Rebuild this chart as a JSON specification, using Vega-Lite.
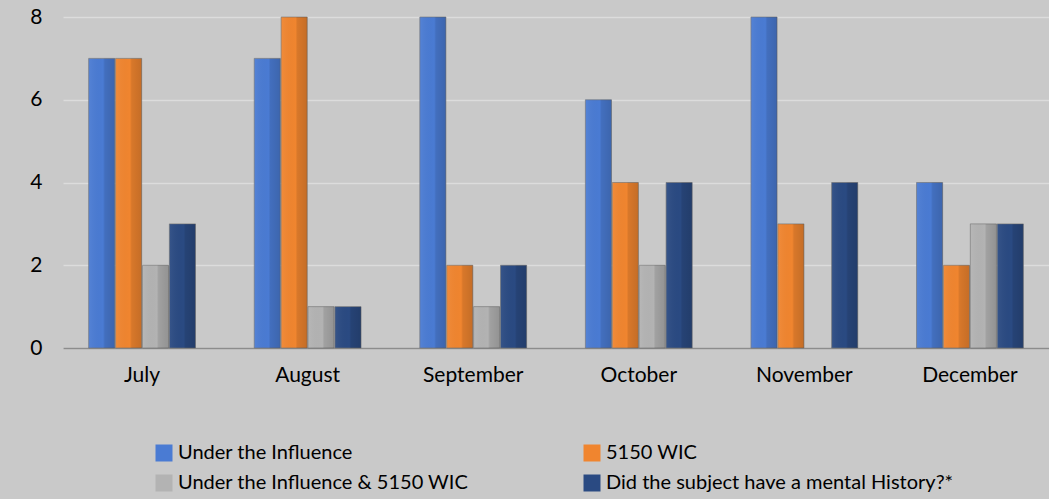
{
  "$schema": "https://vega.github.io/schema/vega-lite/v6.json",
  "autosize": {"type": "none"},
  "padding": {"left": 63, "top": 17, "right": 0, "bottom": 151},
  "width": 986,
  "height": 331,
  "background": "#c9c9c9",
  "data": {
    "values": [
      {"month": "July", "series": "Under the Influence", "count": 7},
      {"month": "July", "series": "5150 WIC", "count": 7},
      {"month": "July", "series": "Under the Influence & 5150 WIC", "count": 2},
      {"month": "July", "series": "Did the subject have a mental History?*", "count": 3},
      {"month": "August", "series": "Under the Influence", "count": 7},
      {"month": "August", "series": "5150 WIC", "count": 8},
      {"month": "August", "series": "Under the Influence & 5150 WIC", "count": 1},
      {"month": "August", "series": "Did the subject have a mental History?*", "count": 1},
      {"month": "September", "series": "Under the Influence", "count": 8},
      {"month": "September", "series": "5150 WIC", "count": 2},
      {"month": "September", "series": "Under the Influence & 5150 WIC", "count": 1},
      {"month": "September", "series": "Did the subject have a mental History?*", "count": 2},
      {"month": "October", "series": "Under the Influence", "count": 6},
      {"month": "October", "series": "5150 WIC", "count": 4},
      {"month": "October", "series": "Under the Influence & 5150 WIC", "count": 2},
      {"month": "October", "series": "Did the subject have a mental History?*", "count": 4},
      {"month": "November", "series": "Under the Influence", "count": 8},
      {"month": "November", "series": "5150 WIC", "count": 3},
      {"month": "November", "series": "Under the Influence & 5150 WIC", "count": 0},
      {"month": "November", "series": "Did the subject have a mental History?*", "count": 4},
      {"month": "December", "series": "Under the Influence", "count": 4},
      {"month": "December", "series": "5150 WIC", "count": 2},
      {"month": "December", "series": "Under the Influence & 5150 WIC", "count": 3},
      {"month": "December", "series": "Did the subject have a mental History?*", "count": 3}
    ]
  },
  "encoding": {
    "x": {
      "field": "month",
      "type": "nominal",
      "sort": ["July", "August", "September", "October", "November", "December"],
      "scale": {"paddingInner": 0.355, "paddingOuter": 0.155},
      "axis": {
        "title": null,
        "labelAngle": 0,
        "ticks": false,
        "domainColor": "#8c8c8c",
        "domainWidth": 1.5,
        "labelFont": "Lato",
        "labelFontSize": 21,
        "labelColor": "#000000",
        "labelPadding": 16
      }
    },
    "xOffset": {
      "field": "series",
      "type": "nominal",
      "sort": ["Under the Influence", "5150 WIC", "Under the Influence & 5150 WIC", "Did the subject have a mental History?*"],
      "scale": {"paddingInner": 0.03}
    },
    "y": {
      "field": "count",
      "type": "quantitative",
      "scale": {"domain": [0, 8]},
      "axis": {
        "title": null,
        "values": [0, 2, 4, 6, 8],
        "domain": false,
        "ticks": false,
        "gridColor": "#dcdcdc",
        "gridWidth": 1.5,
        "labelFont": "Lato",
        "labelFontSize": 21,
        "labelColor": "#000000",
        "labelPadding": 21
      }
    }
  },
  "layer": [
    {
      "mark": {"type": "bar", "strokeWidth": 1, "stroke": "#6e6e6e"},
      "encoding": {
        "strokeOpacity": {"condition": {"test": "datum.count == 0", "value": 0}, "value": 0.6},
        "color": {
          "field": "series",
          "type": "nominal",
          "sort": ["Under the Influence", "5150 WIC", "Under the Influence & 5150 WIC", "Did the subject have a mental History?*"],
          "scale": {
            "domain": ["Under the Influence", "5150 WIC", "Under the Influence & 5150 WIC", "Did the subject have a mental History?*"],
            "range": ["#4a7bd3", "#f0852f", "#b3b3b3", "#2a4a82"]
          },
          "legend": {
            "title": null,
            "orient": "none",
            "legendX": 91,
            "legendY": 426,
            "direction": "horizontal",
            "columns": 2,
            "columnPadding": 113,
            "rowPadding": 10,
            "symbolType": "square",
            "symbolSize": 289,
            "symbolStrokeWidth": 0,
            "labelFont": "Lato",
            "labelFontSize": 20,
            "labelColor": "#000000",
            "labelOffset": 4,
            "labelLimit": 600
          }
        }
      }
    },
    {
      "mark": {
        "type": "bar",
        "strokeWidth": 0,
        "fill": {
          "gradient": "linear",
          "x1": 0, "x2": 1, "y1": 0, "y2": 0,
          "stops": [
            {"offset": 0, "color": "rgba(255,255,255,0.06)"},
            {"offset": 0.55, "color": "rgba(0,0,0,0)"},
            {"offset": 0.62, "color": "rgba(0,0,0,0.1)"},
            {"offset": 1, "color": "rgba(0,0,0,0.18)"}
          ]
        }
      },
      "encoding": {}
    }
  ],
  "config": {"view": {"stroke": null}}
}
